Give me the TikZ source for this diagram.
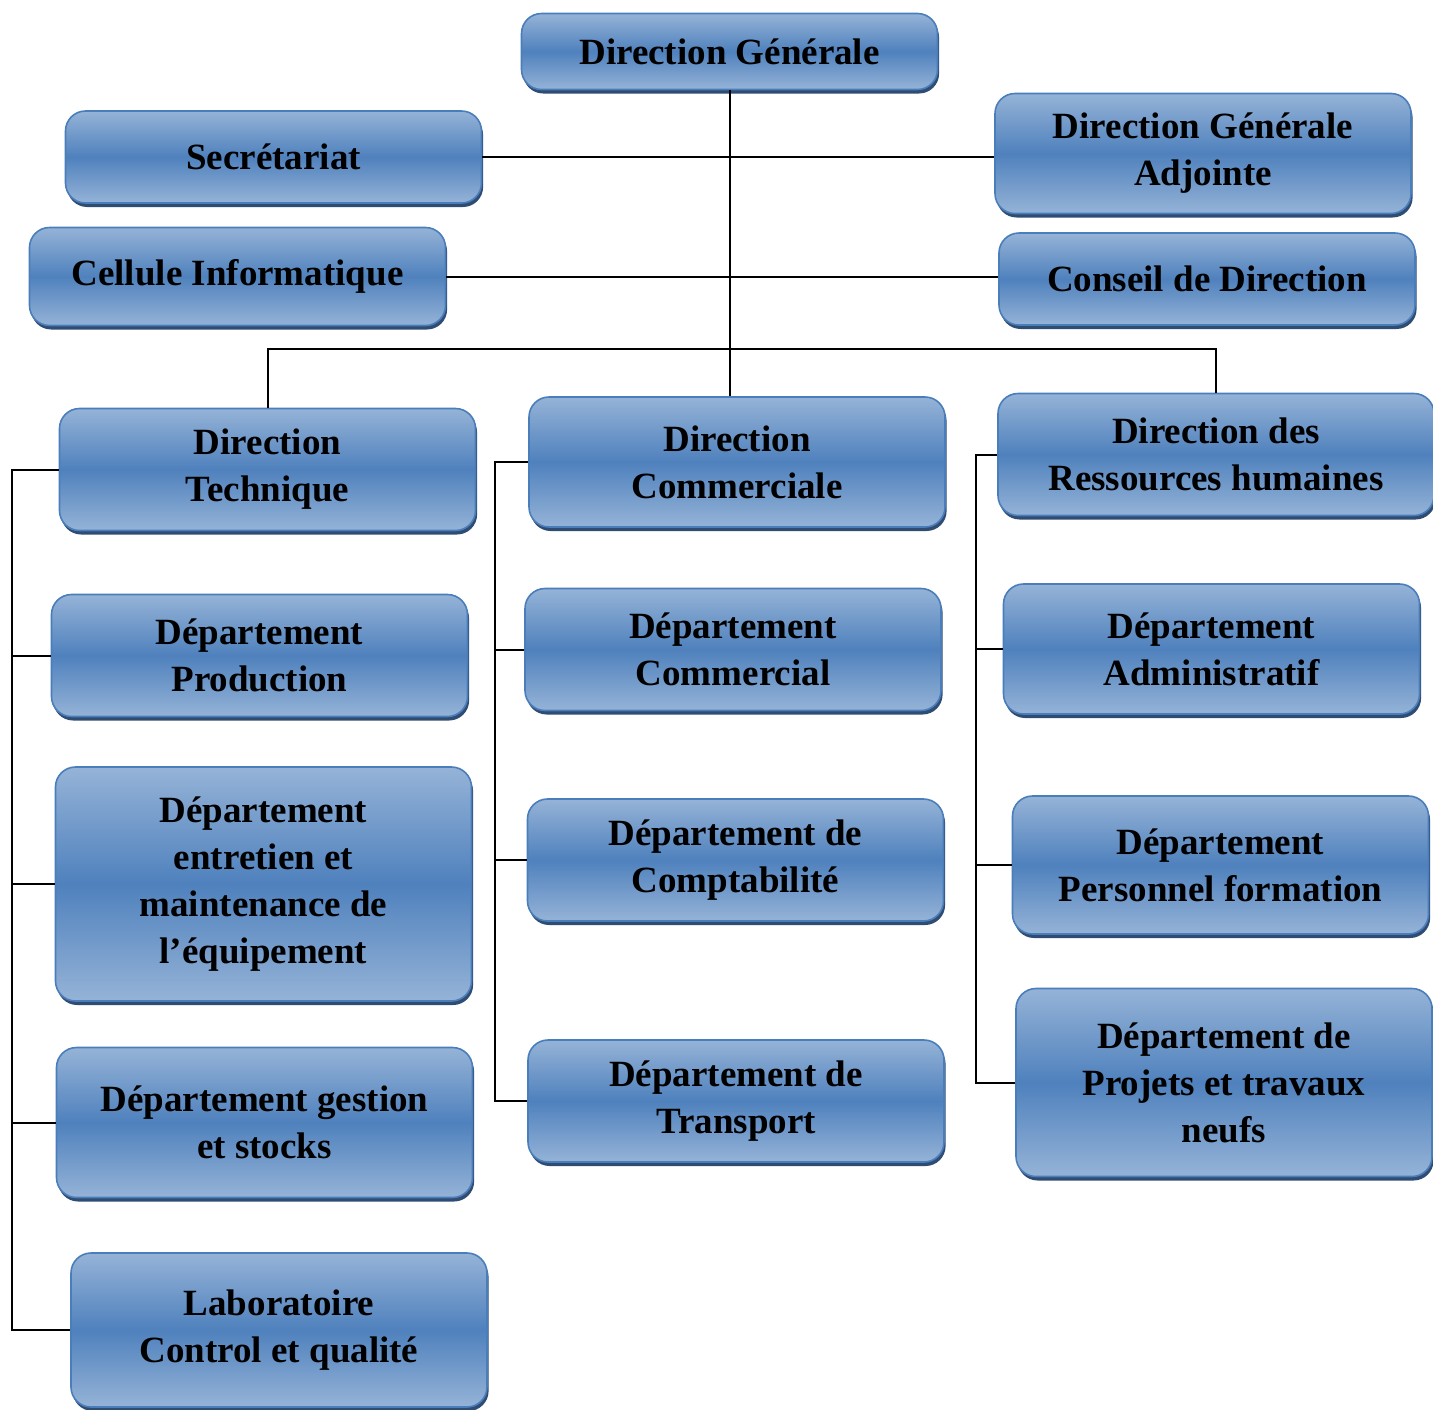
\documentclass[tikz,border=0pt]{standalone}
\usepackage{fontspec}
\setmainfont{Liberation Serif}
\usepackage{tikz}
\usetikzlibrary{shadows}
\definecolor{boxlight}{HTML}{95B3D7}
\definecolor{boxdark}{HTML}{4F81BD}
\definecolor{boxline}{HTML}{4A7EBB}
\definecolor{boxshadow}{HTML}{2F4C73}
\tikzset{
  orgbox/.style={rectangle, rounded corners=10pt, draw=boxline, line width=0.8pt,
    top color=boxlight, bottom color=boxlight, middle color=boxdark,
    drop shadow={shadow xshift=0.8pt, shadow yshift=-2pt, fill=boxshadow, opacity=1},
    align=center, inner sep=2pt,
    font=\fontsize{18.5}{23.5}\selectfont\bfseries},
  link/.style={line width=1pt, black}
}
\begin{document}
\begin{tikzpicture}[x=0.5pt, y=-0.5pt]
  \useasboundingbox (0,0) rectangle (1433,1409);
  \node[orgbox, minimum width=208pt, minimum height=38pt] (dg) at (729.5,51.5) {Direction Générale};
  \node[orgbox, minimum width=208pt, minimum height=46pt] (secr) at (273.5,157) {Secrétariat};
  \node[orgbox, minimum width=208pt, minimum height=60pt] (dga) at (1203,153.5) {Direction Générale\\Adjointe};
  \node[orgbox, minimum width=208pt, minimum height=49pt] (cell) at (237.5,276.5) {Cellule Informatique};
  \node[orgbox, minimum width=208pt, minimum height=46pt] (cons) at (1207,279) {Conseil de Direction};
  \node[orgbox, minimum width=208pt, minimum height=61pt] (dt) at (267.5,469.5) {Direction\\Technique};
  \node[orgbox, minimum width=208pt, minimum height=65pt] (dc) at (737,462) {Direction\\Commerciale};
  \node[orgbox, minimum width=218pt, minimum height=61pt] (drh) at (1216,454.5) {Direction des\\ Ressources humaines};
  \node[orgbox, minimum width=208pt, minimum height=61pt] (dprod) at (259.5,655.5) {Département\\Production};
  \node[orgbox, minimum width=208pt, minimum height=61pt] (dcom) at (733,649.5) {Département\\Commercial};
  \node[orgbox, minimum width=208pt, minimum height=65pt] (dadm) at (1211.5,649) {Département\\Administratif};
  \node[orgbox, minimum width=208pt, minimum height=117pt] (dent) at (263.5,884) {Département\\entretien et\\maintenance de\\l’équipement};
  \node[orgbox, minimum width=208pt, minimum height=61pt] (dcpt) at (735.5,860) {Département de\\Comptabilité};
  \node[orgbox, minimum width=208pt, minimum height=69pt] (dpers) at (1220.5,865) {Département\\Personnel formation};
  \node[orgbox, minimum width=208pt, minimum height=75pt] (dstock) at (264.5,1122.5) {Département gestion\\et stocks};
  \node[orgbox, minimum width=208pt, minimum height=61pt] (dtrans) at (736,1101) {Département de\\Transport};
  \node[orgbox, minimum width=208pt, minimum height=94pt] (dproj) at (1224,1082.5) {Département de\\Projets et travaux\\neufs};
  \node[orgbox, minimum width=208pt, minimum height=77pt] (labo) at (279,1330) {Laboratoire\\Control et qualité};

  \coordinate (split) at (729,349);
  \coordinate (lbus) at (12,466);
  \coordinate (mbus) at (495,467);
  \coordinate (rbus) at (976,455);

  \draw[link] (dg.south) -- (dg.south |- dc.north);
  \draw[link] (secr.east) -- (secr.east -| dga.west);
  \draw[link] (cell.east) -- (cell.east -| cons.west);
  \draw[link] (dt.north) |- (split) -| (drh.north);

  \draw[link] (dt.west) -- (dt.west -| lbus) |- (labo.west);
  \foreach \n in {dprod,dent,dstock}
    \draw[link] (\n.west) -- (\n.west -| lbus);
  \draw[link] (dc.west) -- (dc.west -| mbus) |- (dtrans.west);
  \foreach \n in {dcom,dcpt}
    \draw[link] (\n.west) -- (\n.west -| mbus);
  \draw[link] (drh.west) -- (drh.west -| rbus) |- (dproj.west);
  \foreach \n in {dadm,dpers}
    \draw[link] (\n.west) -- (\n.west -| rbus);
\end{tikzpicture}
\end{document}
